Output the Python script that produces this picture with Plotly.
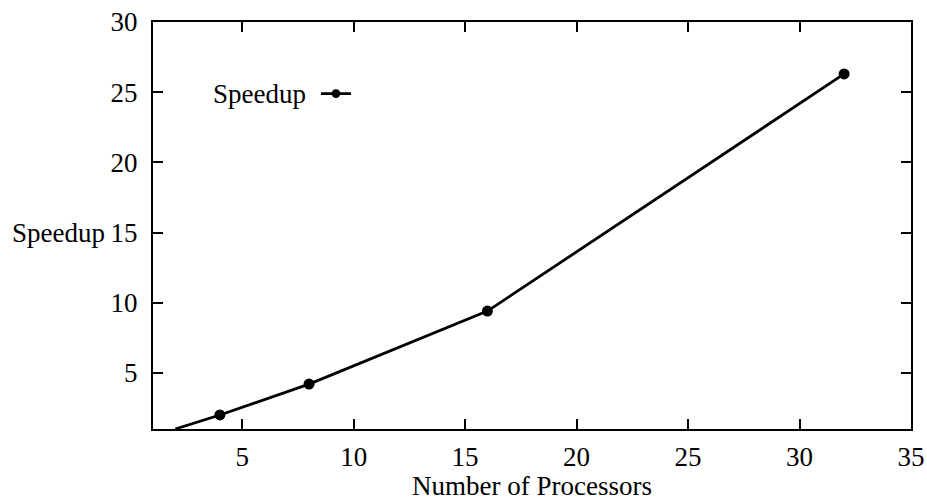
import plotly.graph_objects as go

processors = [2, 4, 8, 16, 32]
speedup = [1.0, 2.0, 4.2, 9.4, 26.3]
marker_sizes = [0, 11, 11, 11, 11]

x_ticks = [5, 10, 15, 20, 25, 30, 35]
y_ticks = [5, 10, 15, 20, 25, 30]

FONT = "Liberation Serif"

fig = go.Figure()
fig.add_trace(go.Scatter(
    x=processors, y=speedup, mode="lines+markers", name="",
    line=dict(color="black", width=2.8),
    marker=dict(color="black", size=marker_sizes, opacity=1, line=dict(width=0)),
    cliponaxis=True,
))

axis_common = dict(
    showgrid=False, zeroline=False, showline=True, linecolor="black", linewidth=2.2,
    mirror="ticks", ticks="inside", ticklen=10, tickwidth=1.8, tickcolor="black",
    tickfont=dict(family=FONT, size=27, color="black"), automargin=False,
)

fig.update_xaxes(range=[1, 35], tickvals=x_ticks, ticklabelstandoff=2,
                 title=dict(text="Number of Processors", font=dict(family=FONT, size=27, color="black"), standoff=0),
                 **axis_common)
fig.update_yaxes(range=[1, 30], tickvals=y_ticks, ticklabelstandoff=8, **axis_common)

fig.add_annotation(text="Speedup", xref="paper", yref="paper", x=0, y=(15 - 1) / 29,
                   xanchor="right", yanchor="middle", xshift=-46, showarrow=False,
                   font=dict(family=FONT, size=27, color="black"))
fig.add_annotation(text="Speedup", xref="paper", yref="paper", x=0.205, y=0.823,
                   xanchor="right", yanchor="middle", showarrow=False,
                   font=dict(family=FONT, size=27, color="black"))

fig.update_layout(
    width=927, height=501,
    margin=dict(l=153, r=16, t=22, b=72),
    paper_bgcolor="white", plot_bgcolor="white",
    showlegend=True,
    legend=dict(x=0.215, y=0.823, xanchor="left", yanchor="middle",
                bgcolor="rgba(0,0,0,0)", itemwidth=30,
                font=dict(family=FONT, size=27, color="black")),
    font=dict(family=FONT, color="black"),
)

fig.write_html("out.html", config={"displayModeBar": False},
               post_script="document.body.style.margin='0';document.body.style.overflow='hidden';")
